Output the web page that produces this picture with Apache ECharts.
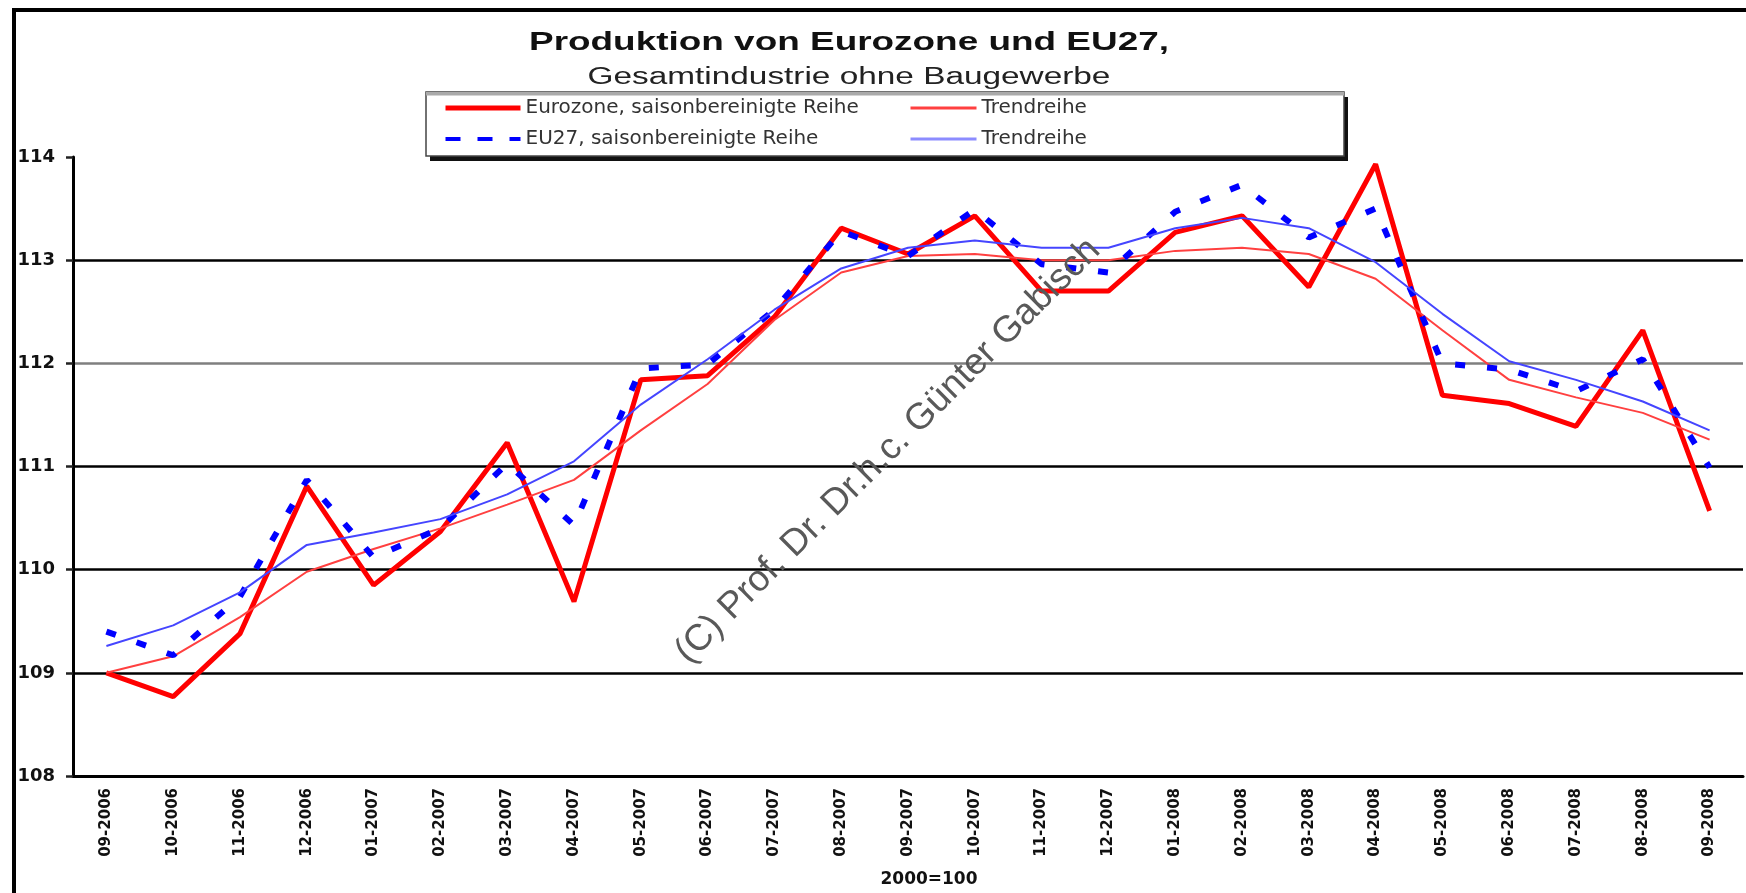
<!DOCTYPE html>
<html lang="de">
<head>
<meta charset="UTF-8" />
<title>Produktion von Eurozone und EU27</title>
<script src="https://cdn.jsdelivr.net/npm/echarts@6/dist/echarts.min.js"></script>
<style>
  * {
    margin: 0;
    padding: 0;
  }
  html,
  body {
    background: #fff;
  }
</style>
</head>
<body>
<div id="chart" style="width: 1746px; height: 893px"></div>
<script>
  var months = [
    "09-2006", "10-2006", "11-2006", "12-2006", "01-2007", "02-2007", "03-2007",
    "04-2007", "05-2007", "06-2007", "07-2007", "08-2007", "09-2007", "10-2007",
    "11-2007", "12-2007", "01-2008", "02-2008", "03-2008", "04-2008", "05-2008",
    "06-2008", "07-2008", "08-2008", "09-2008"
  ];
  var eurozone = [
    109.0, 108.77, 109.38, 110.81, 109.85, 110.37, 111.23, 109.69, 111.84, 111.88,
    112.45, 113.31, 113.06, 113.43, 112.7, 112.7, 113.27, 113.43, 112.74, 113.93,
    111.69, 111.61, 111.39, 112.32, 110.57
  ];
  var eurozoneTrend = [
    109.0, 109.16, 109.54, 109.98, 110.2, 110.4, 110.63, 110.87, 111.35, 111.8,
    112.42, 112.88, 113.04, 113.06, 113.0, 113.0, 113.09, 113.12, 113.06, 112.82,
    112.32, 111.84, 111.67, 111.52, 111.26
  ];
  var eu27 = [
    109.4, 109.17, 109.74, 110.87, 110.12, 110.4, 111.03, 110.43, 111.95, 111.99,
    112.52, 113.28, 113.04, 113.49, 112.96, 112.88, 113.47, 113.73, 113.22, 113.5,
    112.0, 111.94, 111.73, 112.04, 110.99
  ];
  var eu27Trend = [
    109.26, 109.46, 109.78, 110.24, 110.36, 110.49, 110.73, 111.05, 111.6, 112.04,
    112.52, 112.92, 113.12, 113.19, 113.12, 113.12, 113.31, 113.41, 113.31, 112.98,
    112.48, 112.02, 111.84, 111.63, 111.35
  ];
  // gridline colours, from 108 up to 114
  var gridColors = ["#000", "#000", "#000", "#000", "#7f7f7f", "#000", "rgba(0,0,0,0)"];

  var chart = echarts.init(document.getElementById("chart"));
  var legendText = { fontFamily: "DejaVu Sans", fontSize: 20, color: "#333", lineHeight: 20 };
  var option = {
    animation: false,
    backgroundColor: "#fff",
    grid: { left: 73, right: 3, top: 157, bottom: 117 },
    xAxis: {
      type: "category",
      data: months,
      boundaryGap: true,
      axisLine: { lineStyle: { color: "#000", width: 3 } },
      axisTick: { length: 7, lineStyle: { color: "#222", width: 2.5 } },
      axisLabel: {
        interval: 0,
        rotate: 90,
        margin: 12,
        color: "#111",
        fontFamily: "DejaVu Sans",
        fontWeight: "bold",
        fontSize: 15
      },
      splitLine: { show: false }
    },
    yAxis: {
      type: "value",
      min: 108,
      max: 114,
      interval: 1,
      axisLine: { show: true, lineStyle: { color: "#000", width: 3 } },
      axisTick: { show: true, length: 7, lineStyle: { color: "#222", width: 2.5 } },
      axisLabel: {
        margin: 18,
        color: "#111",
        fontFamily: "DejaVu Sans",
        fontWeight: "bold",
        fontSize: 18
      },
      splitLine: { lineStyle: { color: gridColors, width: 2.5 } }
    },
    legend: [
      {
        left: 443,
        top: 98,
        orient: "vertical",
        padding: 0,
        itemWidth: 75,
        itemHeight: 20,
        itemGap: 11,
        selectedMode: false,
        z: 10,
        itemStyle: { opacity: 0 },
        textStyle: legendText,
        data: [
          { name: "Eurozone, saisonbereinigte Reihe", lineStyle: { width: 5 } },
          { name: "EU27, saisonbereinigte Reihe", lineStyle: { width: 4, type: [15, 17] } }
        ]
      },
      {
        left: 909,
        top: 98,
        orient: "vertical",
        padding: 0,
        itemWidth: 66,
        itemHeight: 20,
        itemGap: 11,
        selectedMode: false,
        z: 10,
        itemStyle: { opacity: 0 },
        textStyle: legendText,
        data: [
          { name: "Trendreihe", lineStyle: { width: 3 } },
          { name: "Trendreihe ", lineStyle: { width: 3, color: "#8c8cff" } }
        ]
      }
    ],
    graphic: [
      // frame
      { type: "rect", shape: { x: 12, y: 8, width: 4, height: 885 }, style: { fill: "#000" } },
      { type: "rect", shape: { x: 12, y: 8, width: 1734, height: 4 }, style: { fill: "#000" } },
      // legend box with shadow
      { type: "rect", z: 1, shape: { x: 430, y: 97, width: 918, height: 64 }, style: { fill: "#111" } },
      {
        type: "rect",
        z: 2,
        shape: { x: 426, y: 92, width: 918, height: 64 },
        style: { fill: "#fff", stroke: "#444", lineWidth: 1.5 }
      },
      { type: "rect", z: 3, shape: { x: 426, y: 92, width: 918, height: 3.5 }, style: { fill: "#aaa" } },
      // titles
      {
        type: "text",
        x: 849,
        y: 43,
        scaleX: 1.42,
        style: {
          text: "Produktion von Eurozone und EU27,",
          fontFamily: "Liberation Sans",
          fontWeight: "bold",
          fontSize: 26,
          fill: "#111",
          align: "center",
          verticalAlign: "middle"
        }
      },
      {
        type: "text",
        x: 849,
        y: 78,
        scaleX: 1.45,
        style: {
          text: "Gesamtindustrie ohne Baugewerbe",
          fontFamily: "Liberation Sans",
          fontSize: 23,
          fill: "#222",
          align: "center",
          verticalAlign: "middle"
        }
      },
      {
        type: "text",
        x: 929,
        y: 880,
        style: {
          text: "2000=100",
          fontFamily: "DejaVu Sans",
          fontWeight: "bold",
          fontSize: 17,
          fill: "#111",
          align: "center",
          verticalAlign: "middle"
        }
      },
      // watermark
      {
        type: "text",
        x: 888,
        y: 451,
        z: 100,
        rotation: (45 * Math.PI) / 180,
        style: {
          text: "(C) Prof. Dr. Dr.h.c. Günter Gabisch",
          fontFamily: "Liberation Sans",
          fontSize: 37,
          fill: "#595959",
          align: "center",
          verticalAlign: "middle"
        }
      }
    ],
    series: [
      {
        name: "Eurozone, saisonbereinigte Reihe",
        type: "line",
        data: eurozone,
        symbol: "none",
        itemStyle: { color: "#ff0000" },
        lineStyle: { color: "#ff0000", width: 5 }
      },
      {
        name: "Trendreihe",
        type: "line",
        data: eurozoneTrend,
        symbol: "none",
        itemStyle: { color: "#ff4040" },
        lineStyle: { color: "#ff4040", width: 2 }
      },
      {
        name: "EU27, saisonbereinigte Reihe",
        type: "line",
        data: eu27,
        symbol: "none",
        itemStyle: { color: "#0000ff" },
        lineStyle: { color: "#0000ff", width: 6, type: [10, 22] }
      },
      {
        name: "Trendreihe ",
        type: "line",
        data: eu27Trend,
        symbol: "none",
        itemStyle: { color: "#4545ff" },
        lineStyle: { color: "#4545ff", width: 2 }
      }
    ]
  };
  chart.setOption(option);
</script>
</body>
</html>
